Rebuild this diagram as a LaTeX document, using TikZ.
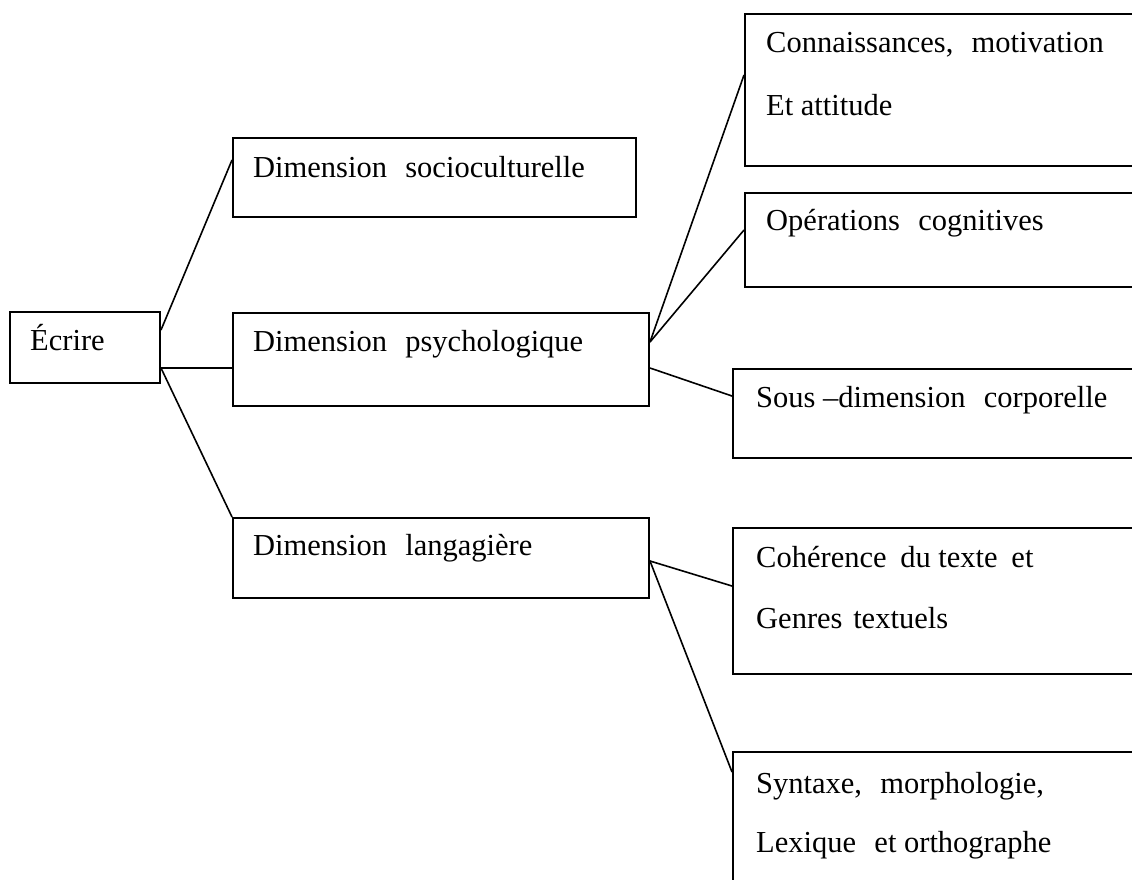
\documentclass[tikz,border=0pt]{standalone}
\usepackage{fontspec}
\setmainfont{Liberation Serif}
\newcommand\wgap{\hspace{0.6em}}
\newcommand\mgap{\hspace{0.45em}}
\begin{document}
\begin{tikzpicture}[x=1pt,y=-1pt,
  box/.style={draw, line width=2pt, rectangle, anchor=north west, inner sep=0pt},
  txt/.style={anchor=base west, inner sep=0pt, font=\fontsize{30.5}{36}\selectfont},
  link/.style={draw, line width=1.6pt}]
\useasboundingbox (0,0) rectangle (1132,879);
\clip (0,0) rectangle (1132,879);
% boxes
\node[box, minimum width=150pt, minimum height=71pt] (E) at (9,311) {};
\node[box, minimum width=403pt, minimum height=79pt] (S) at (232,137) {};
\node[box, minimum width=416pt, minimum height=93pt] (P) at (232,312) {};
\node[box, minimum width=416pt, minimum height=80pt] (L) at (232,517) {};
\node[box, minimum width=420pt, minimum height=152pt] (C1) at (744,13) {};
\node[box, minimum width=420pt, minimum height=94pt] (C2) at (744,192) {};
\node[box, minimum width=430pt, minimum height=89pt] (C3) at (732,368) {};
\node[box, minimum width=430pt, minimum height=146pt] (C4) at (732,527) {};
\node[box, minimum width=430pt, minimum height=160pt] (C5) at (732,751) {};
% texts
\node[txt] (tE) at (30,350) {Écrire};
\node[txt] (tS) at (253,177) {Dimension\wgap socioculturelle};
\node[txt] (tP) at (253,351) {Dimension\wgap psychologique};
\node[txt] (tL) at (253,555) {Dimension\wgap langagière};
\node[txt] (tC1a) at (766,52) {Connaissances,\wgap motivation};
\node[txt] (tC1b) at (766,115) {Et attitude};
\node[txt] (tC2) at (766,230) {Opérations\wgap cognitives};
\node[txt] (tC3) at (756,407) {Sous –dimension\wgap corporelle};
\node[txt] (tC4a) at (756,567) {Cohérence\mgap du texte\mgap et};
\node[txt] (tC4b) at (756,628) {Genres\hspace{0.35em}textuels};
\node[txt] (tC5a) at (756,793) {Syntaxe,\wgap morphologie,};
\node[txt] (tC5b) at (756,852) {Lexique\wgap et orthographe};
% connectors
\draw[link] ([yshift=-19pt]E.north east) -- ([yshift=-23pt]S.north west);
\draw[link] ([yshift=-57pt]E.north east) -- ([yshift=-56pt]P.north west);
\draw[link] ([yshift=-57pt]E.north east) -- (L.north west);
\draw[link] ([yshift=-30pt]P.north east) -- ([yshift=-62pt]C1.north west);
\draw[link] ([yshift=-30pt]P.north east) -- ([yshift=-38pt]C2.north west);
\draw[link] ([yshift=-56pt]P.north east) -- ([yshift=-28pt]C3.north west);
\draw[link] ([yshift=-44pt]L.north east) -- ([yshift=-59pt]C4.north west);
\draw[link] ([yshift=-44pt]L.north east) -- ([yshift=-21pt]C5.north west);
\end{tikzpicture}
\end{document}
